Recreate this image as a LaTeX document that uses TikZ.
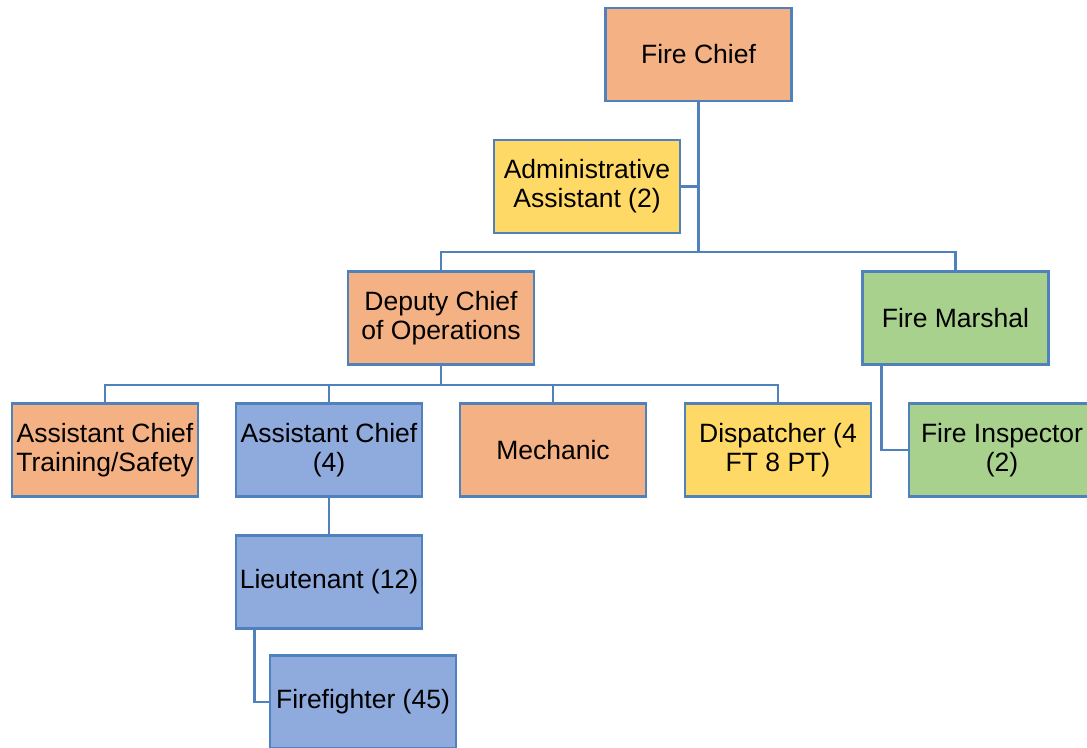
\documentclass[tikz,border=0pt]{standalone}
\usepackage{fontspec}
\setmainfont{Liberation Sans}
\definecolor{orgfill}{HTML}{F4B183}
\definecolor{yelfill}{HTML}{FFD966}
\definecolor{blufill}{HTML}{8FAADC}
\definecolor{grnfill}{HTML}{A9D18E}
\definecolor{edgeblue}{HTML}{4F81BD}
\begin{document}
\begin{tikzpicture}[x=1pt,y=-1pt,
  boxbase/.style={draw=edgeblue,line width=2.8pt,minimum width=186pt,minimum height=93pt,
    inner sep=0pt,align=center,font=\fontsize{26.5}{29}\selectfont},
  orgbox/.style={boxbase,fill=orgfill},
  yelbox/.style={boxbase,fill=yelfill},
  blubox/.style={boxbase,fill=blufill},
  grnbox/.style={boxbase,fill=grnfill},
  link/.style={draw=edgeblue,line width=2.8pt}]
\useasboundingbox (0,0) rectangle (1087,747);
\node[orgbox] (chief) at (698.5,54.5) {Fire Chief};
\node[yelbox] (admin) at (587,186.5) {Administrative\\Assistant (2)};
\node[orgbox] (deputy) at (441,318) {Deputy Chief\\of Operations};
\node[grnbox] (marshal) at (955.5,318) {Fire Marshal};
\node[orgbox] (actrain) at (105,450) {Assistant Chief\\Training/Safety};
\node[blubox] (ac) at (329,450) {Assistant Chief\\(4)};
\node[orgbox] (mech) at (553,450) {Mechanic};
\node[yelbox] (disp) at (778,450) {Dispatcher (4\\FT 8 PT)};
\node[grnbox] (insp) at (1002,450) {Fire Inspector\\(2)};
\node[blubox] (lt) at (329,582) {Lieutenant (12)};
\node[blubox] (ff) at (363,702) {Firefighter (45)};
\coordinate (b1) at (698.5,252);
\coordinate (b2) at (441,385);
\draw[link] (chief.south) -- (b1);
\draw[link] (admin.east) -- (admin.east -| chief.south);
\draw[link] (deputy.north) |- (b1) -| (marshal.north);
\draw[link] (deputy.south) -- (b2);
\draw[link] (actrain.north) |- (b2) -| (disp.north);
\draw[link] (ac.north) -- (ac.north |- b2);
\draw[link] (mech.north) -- (mech.north |- b2);
\draw[link] ([xshift=20pt]marshal.south west) |- (insp.west);
\draw[link] (ac.south) -- (lt.north);
\draw[link] ([xshift=20pt]lt.south west) |- (ff.west);
\end{tikzpicture}
\end{document}
